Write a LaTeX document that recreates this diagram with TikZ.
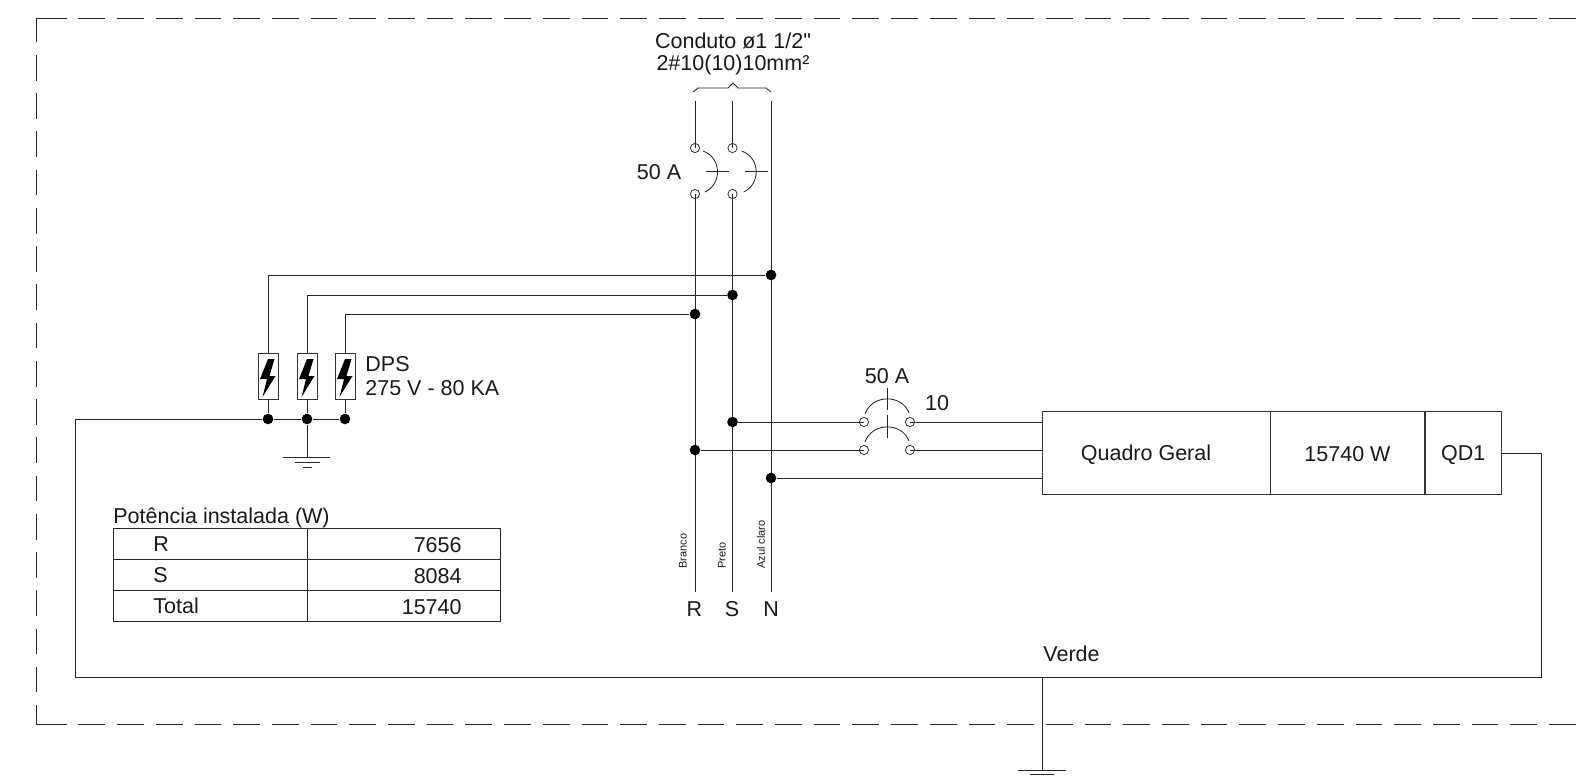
\documentclass[tikz,border=0pt]{standalone}
\usepackage{fontspec}
\setmainfont{Liberation Sans}
\newfontfamily\plainfont{Liberation Sans}
\tikzset{
  wire/.style={line width=0.42pt,draw=black!85},
  junction/.style={circle,fill=black,inner sep=0pt,minimum size=5.3pt},
  terminal/.style={circle,draw=black!80,line width=0.4pt,inner sep=0pt,minimum size=4.6pt},
  dpsbox/.style={rectangle,draw=black!80,line width=0.42pt,inner sep=0pt,minimum width=10pt,minimum height=23pt},
  panel/.style={rectangle,draw=black!80,line width=0.42pt,inner sep=0pt,minimum height=41.5pt},
  paneltext/.style={font=\fontsize{10.75}{12}\selectfont,inner sep=0pt,text=black!90},
  label/.style={font=\fontsize{10.75}{11.7}\selectfont,inner sep=0pt,text=black!90},
  tinylabel/.style={font=\fontsize{5.5}{6}\selectfont,inner sep=0pt,rotate=90,anchor=west,text=black!90},
  framev/.style={wire,dash pattern=on 12.85pt off 6.27pt,dash phase=3.35pt}
}
\begin{document}
\begin{tikzpicture}[x=0.5pt,y=-0.5pt]
  \useasboundingbox (0,0) rectangle (1582,776);

  \coordinate (frameTL) at (36,18);
  \coordinate (frameBL) at (36,724);
  \coordinate (frameTR) at (1582,18);
  \coordinate (frameBR) at (1582,724);
  \draw[wire] (frameTL) -- ++(30.5,0);
  \draw[wire] (frameBL) -- ++(30.5,0);
  \draw[wire,dash pattern=on 13.35pt off 6pt] (78.4,18) -- (frameTR);
  \draw[wire,dash pattern=on 13.35pt off 6pt] (78.4,724) -- (frameBR);
  \draw[framev] (frameBL) -- (frameTL);

  % buses
  \foreach \name/\x in {R/695,S/732.5}
  {
    \coordinate (top\name) at (\x,101);
    \coordinate (end\name) at (\x,592);
    \node[terminal] (up\name) at (\x,148) {};
    \node[terminal] (low\name) at (\x,194) {};
    \draw[wire] (top\name) -- (up\name.center);
    \draw[wire] (low\name.center) -- (end\name);
    \node[label] (txt\name) at (\x-0.5,609) {\name};
  }
  \coordinate (topN) at (771,101);
  \coordinate (endN) at (771,592);
  \draw[wire] (topN) -- (endN);
  \node[label] (txtN) at (771,609) {N};
  \node[tinylabel] (colR) at (683,569) {Branco};
  \node[tinylabel] (colS) at (722,569) {Preto};
  \node[tinylabel] (colN) at (761,569) {Azul claro};

  \node[label,align=center] (conduit) at (733,54) {Conduto ø1 1/2{\plainfont"}\\[-0.5pt]2\#10(10)10mm²};
  \draw[wire] (693,92) -- (698,88) -- (728,88) -- (733,83) -- (738,88) -- (766,88) -- (771,92);

  % main breaker
  \foreach \dx in {0,38.7}
  {
    \draw[wire] (703+\dx,151) .. controls (722+\dx,158) and (722+\dx,184) .. (705+\dx,192);
    \draw[wire] (706+\dx,171) -- (729+\dx,171);
  }
  \node[label] (mainAmp) at (659,172) {50 A};

  % surge protectors
  \foreach \i/\x/\y/\bus in {1/268/275/771,2/307/295/732.5,3/345/314/695}
  {
    \node[junction] (bus\i) at (\bus,\y) {};
    \node[dpsbox] (dps\i) at (\x,376) {};
    \node[junction] (rail\i) at (\x,419) {};
    \draw[wire] (bus\i) -| (dps\i);
    \draw[wire] (dps\i) -- (rail\i);
    \fill[black] ([shift={(0,-17)}]dps\i.center) -- ++(6.5,0) -- ++(-5,17) -- ++(6,0)
      -- ([shift={(-5.5,21)}]dps\i.center) -- ([shift={(-1,3)}]dps\i.center) -- ([shift={(-8,3)}]dps\i.center) -- cycle;
  }
  \node[label,align=left,anchor=west] (dpsLabel) at (365,376) {DPS\\275 V - 80 KA};

  % ground of the surge protectors
  \coordinate (gndA) at (307,457);
  \draw[wire] (rail2) -- (gndA);
  \draw[wire] (283,457) -- (330,457);
  \draw[wire] (295,462) -- (320,462);
  \draw[wire] (303,467) -- (312,467);

  % panel
  \node[panel,minimum width=114pt] (quadro) at (1156,453) {};
  \node[panel,minimum width=77.5pt] (power) at (1347.5,453) {};
  \node[panel,minimum width=38.5pt] (qd) at (1463.25,453) {};
  \node[paneltext] (quadroText) at (1146,455.5) {\strut Quadro Geral};
  \node[paneltext] (powerText) at (1347.5,456.5) {\strut 15740 W};
  \node[paneltext] (qdText) at (1463.25,455.5) {\strut QD1};

  % feeder breaker
  \node[junction] (feedS) at (732.5,422) {};
  \node[junction] (feedR) at (695,450) {};
  \node[junction] (feedN) at (771,478) {};
  \node[terminal] (inS) at (864,422) {};
  \node[terminal] (outS) at (910,422) {};
  \node[terminal] (inR) at (864,450) {};
  \node[terminal] (outR) at (910,450) {};
  \draw[wire] (feedS) -- (inS.center);
  \draw[wire] (feedR) -- (inR.center);
  \draw[wire] (outS.center) -- (outS -| quadro.west);
  \draw[wire] (outR.center) -- (outR -| quadro.west);
  \draw[wire] (feedN) -- (feedN -| quadro.west);
  \foreach \dy in {0,28}
  {
    \draw[wire] (865,414+\dy) .. controls (872,394+\dy) and (902,394+\dy) .. (909,413+\dy);
  }
  \draw[wire] (887,388) -- (887,410);
  \draw[wire] (887,415) -- (887,438);
  \node[label] (feedAmp) at (887,376) {50 A};
  \node[label] (feedSize) at (937,403) {10};

  % protective earth
  \coordinate (peLeft) at (75,419);
  \coordinate (peBL) at (75,677);
  \coordinate (peBR) at (1541,677);
  \coordinate (peTR) at (1541,453);
  \coordinate (peTap) at (1042,677);
  \coordinate (peGnd) at (1042,770);
  \draw[wire] (rail3) -- (rail2) -- (rail1) -- (peLeft) -- (peBL) -- (peBR) -- (peTR) -- (peTR -| qd.east);
  \draw[wire] (peTap) -- (peGnd);
  \draw[wire] (1018,770) -- (1066,770);
  \draw[wire] (1030,774) -- (1054,774);
  \node[label,anchor=west] (verde) at (1043,654) {Verde};

  % table
  \node[label,anchor=base west] (tabTitle) at (113,523) {Potência instalada (W)};
  \draw[wire] (113,528) rectangle (500,621);
  \draw[wire] (307,528) -- (307,621);
  \draw[wire] (113,559) -- (500,559);
  \draw[wire] (113,590) -- (500,590);
  \foreach \phase/\val/\y in {R/7656/544,S/8084/575,Total/15740/606}
  {
    \node[label,anchor=west] (name\phase) at (153,\y) {\phase};
    \node[label,anchor=east] (val\phase) at (462,\y+1) {\val};
  }
\end{tikzpicture}
\end{document}
